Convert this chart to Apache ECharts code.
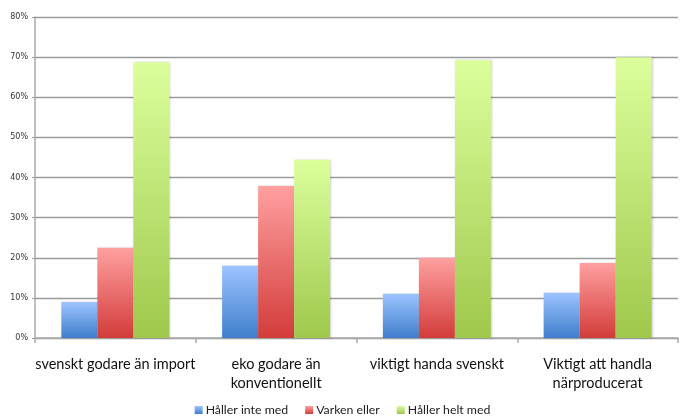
<!DOCTYPE html>
<html>
<head>
<meta charset="utf-8">
<script src="https://cdn.jsdelivr.net/npm/echarts@6/dist/echarts.min.js"></script>
<style>
  html, body { margin: 0; padding: 0; background: #ffffff; }
  #chart { width: 685px; height: 417px; }
</style>
</head>
<body>
<div id="chart"></div>
<script>
// Survey statements and answer shares (percent)
const categories = [
  'svenskt godare än import',
  'eko godare än\nkonventionellt',
  'viktigt handa svenskt',
  'Viktigt att handla\nnärproducerat'
];
const seriesNames = ['Håller inte med', 'Varken eller', 'Håller helt med'];
const disagree = [9.0, 18.0, 11.0, 11.3];
const neutral = [22.5, 37.9, 20.0, 18.7];
const agree = [68.7, 44.4, 69.2, 70.0];

const yMax = 80;
const yStep = 10;

function grad(top, bottom) {
  return new echarts.graphic.LinearGradient(0, 0, 0, 1, [
    { offset: 0, color: top },
    { offset: 1, color: bottom }
  ]);
}

const fills = [
  grad('#9dc4ff', '#3f7ecc'),
  grad('#ffa0a0', '#d23c3a'),
  grad('#dcff9c', '#9fc84c')
];

const values = [disagree, neutral, agree];

const chart = echarts.init(document.getElementById('chart'), null, { renderer: 'canvas' });

chart.setOption({
  animation: false,
  backgroundColor: '#ffffff',
  grid: { left: 35, right: 7, top: 17, bottom: 79, containLabel: false },
  legend: {
    top: 404,
    left: 'center',
    padding: 0,
    itemWidth: 8,
    itemHeight: 8,
    itemGap: 17,
    icon: 'rect',
    textStyle: { fontFamily: 'Lato', fontSize: 12.3, color: '#222', padding: [0, 0, 0, -2] },
    data: seriesNames
  },
  xAxis: {
    type: 'category',
    data: categories,
    axisLine: { lineStyle: { color: '#aaaaaa', width: 1.5 } },
    axisTick: { show: true, length: 5, lineStyle: { color: '#aaaaaa', width: 1.5 } },
    axisLabel: {
      fontFamily: 'Lato',
      fontSize: 14.5,
      color: '#111',
      margin: 17,
      lineHeight: 19,
      interval: 0
    },
    splitLine: { show: false }
  },
  yAxis: {
    type: 'value',
    min: 0,
    max: yMax,
    interval: yStep,
    axisLine: { show: true, lineStyle: { color: '#aaaaaa', width: 1.5 } },
    axisTick: { show: true, length: 3, lineStyle: { color: '#999999' } },
    axisLabel: {
      formatter: '{value}%',
      fontFamily: 'DejaVu Sans',
      fontSize: 8,
      color: '#333',
      margin: 7
    },
    splitLine: { show: true, lineStyle: { color: '#9a9a9a', width: 1.3 } }
  },
  series: seriesNames.map((name, i) => ({
    name: name,
    type: 'bar',
    data: values[i],
    barWidth: 36,
    barGap: '0%',
    itemStyle: {
      color: fills[i],
      shadowColor: 'rgba(0,0,0,0.18)',
      shadowBlur: 2,
      shadowOffsetX: 1
    }
  }))
});
</script>
</body>
</html>
